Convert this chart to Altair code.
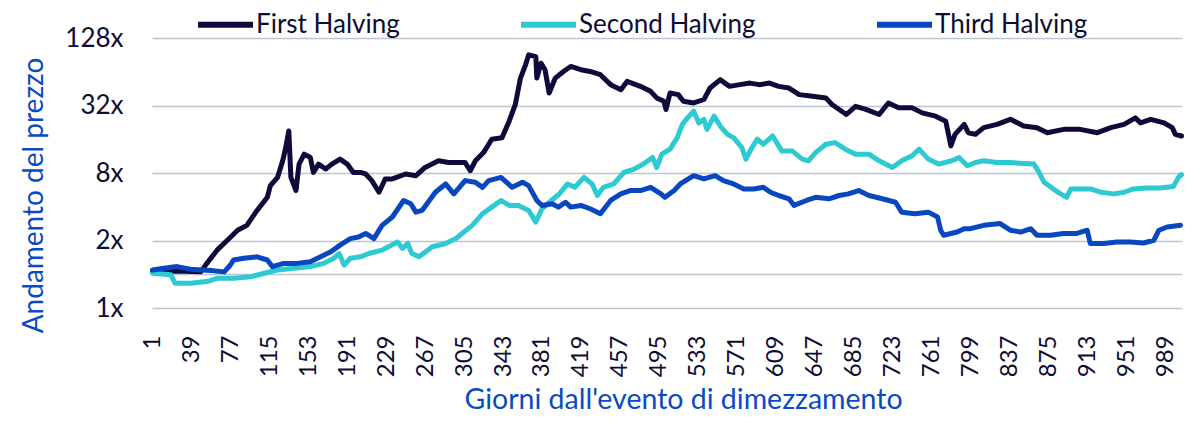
import altair as alt
import pandas as pd

# Price multiple since halving day (day, value)
first_halving = [
    (1, 1.05), (23, 1.07), (48, 1.05), (54, 1.25), (64, 1.64), (74, 2.01), (84, 2.47), (93, 2.73),
    (103, 3.71), (113, 4.86), (116, 6.17), (123, 7.31), (128, 10.28), (131, 13.48), (134, 18.95),
    (136, 7.31), (141, 5.58), (144, 9.61), (149, 11.78), (155, 11.0), (158, 8.10), (163, 9.61),
    (170, 8.68), (176, 9.61), (184, 10.64), (191, 9.61), (197, 8.10), (204, 8.10), (209, 7.84),
    (215, 6.84), (222, 5.39), (228, 7.08), (235, 7.08), (248, 7.84), (258, 7.57), (267, 8.97),
    (280, 10.28), (290, 9.93), (306, 9.93), (311, 8.38), (316, 10.28), (324, 12.17), (332, 16.0),
    (342, 16.53), (349, 23.2), (355, 32.7), (360, 56.2), (365, 73.8), (368, 90.5), (375, 87.4),
    (376, 56.2), (380, 76.3), (384, 66.7), (388, 41.4), (394, 56.2), (402, 64.4), (409, 71.3),
    (419, 66.7), (428, 64.4), (438, 60.2), (448, 49.1), (458, 44.3), (464, 52.5), (477, 47.4),
    (487, 42.8), (493, 37.4), (500, 34.9), (502, 29.5), (506, 41.4), (514, 40.0), (519, 34.9),
    (529, 33.7), (539, 36.2), (545, 45.8), (555, 54.4), (564, 47.4), (574, 49.1), (584, 50.7),
    (593, 49.1), (603, 50.7), (612, 47.4), (622, 45.8), (632, 40.0), (645, 38.7), (658, 37.4),
    (664, 32.7), (678, 26.6), (687, 31.5), (697, 29.5), (710, 26.6), (719, 33.7), (729, 30.5),
    (742, 30.5), (752, 27.5), (765, 25.7), (775, 23.2), (780, 13.96), (784, 17.7), (793, 21.7),
    (797, 18.3), (804, 17.7), (812, 20.3), (825, 21.7), (838, 24.1), (851, 21.0), (864, 20.3),
    (874, 18.3), (890, 19.6), (906, 19.6), (923, 18.3), (936, 20.3), (949, 21.7), (960, 24.8),
    (965, 22.4), (975, 24.1), (988, 22.4), (996, 20.3), (999, 17.7), (1005, 17.1),
]

second_halving = [
    (1, 1.02), (19, 0.99), (23, 0.83), (38, 0.83), (54, 0.86), (64, 0.92), (80, 0.92), (97, 0.95),
    (110, 1.02), (123, 1.09), (139, 1.13), (155, 1.17), (168, 1.25), (178, 1.39), (183, 1.53),
    (188, 1.21), (194, 1.39), (204, 1.43), (212, 1.53), (225, 1.64), (240, 1.94), (245, 1.70),
    (250, 1.88), (254, 1.53), (261, 1.43), (274, 1.76), (287, 1.88), (297, 2.08), (303, 2.31),
    (313, 2.73), (323, 3.47), (332, 3.97), (341, 4.55), (349, 4.11), (358, 4.11), (368, 3.71),
    (375, 2.92), (381, 3.84), (394, 4.86), (398, 5.21), (406, 6.39), (413, 5.96), (422, 7.31),
    (430, 6.39), (435, 5.04), (441, 5.96), (451, 6.39), (461, 8.10), (471, 8.68), (480, 9.61),
    (489, 11.0), (493, 8.97), (498, 11.78), (506, 13.05), (513, 16.53), (518, 21.7), (523, 24.8),
    (529, 28.5), (534, 22.4), (539, 24.1), (542, 19.6), (549, 25.7), (555, 21.0), (562, 17.7),
    (568, 16.53), (576, 13.48), (580, 10.64), (585, 13.05), (591, 16.0), (597, 14.45), (606, 17.1),
    (615, 12.6), (625, 12.6), (635, 10.64), (641, 10.28), (648, 12.17), (658, 14.45), (667, 14.93),
    (677, 13.05), (687, 11.78), (700, 11.78), (710, 10.28), (723, 8.97), (732, 10.28), (742, 11.38),
    (749, 13.05), (758, 10.64), (768, 9.61), (781, 10.28), (788, 11.0), (796, 9.28), (804, 9.93),
    (812, 10.28), (825, 9.93), (838, 9.93), (851, 9.73), (861, 9.61), (866, 8.10), (871, 6.61),
    (880, 5.77), (887, 5.21), (893, 4.86), (897, 5.77), (906, 5.77), (916, 5.77), (926, 5.39),
    (939, 5.21), (949, 5.39), (958, 5.77), (971, 5.89), (984, 5.89), (997, 6.05), (1002, 7.31),
    (1005, 7.73),
]

third_halving = [
    (1, 1.09), (12, 1.13), (25, 1.17), (38, 1.11), (58, 1.08), (71, 1.05), (77, 1.21), (80, 1.34),
    (90, 1.39), (103, 1.43), (113, 1.34), (118, 1.17), (129, 1.25), (142, 1.25), (155, 1.29),
    (165, 1.43), (175, 1.59), (184, 1.82), (194, 2.08), (202, 2.15), (209, 2.31), (217, 2.08),
    (225, 2.73), (235, 3.24), (246, 4.55), (253, 4.25), (258, 3.58), (264, 3.71), (277, 5.39),
    (287, 6.39), (295, 5.21), (306, 6.84), (316, 6.61), (323, 5.96), (329, 6.84), (341, 7.31),
    (352, 5.96), (362, 6.61), (368, 6.17), (376, 4.55), (381, 4.11), (391, 4.25), (397, 3.97),
    (404, 4.39), (409, 3.97), (419, 4.11), (428, 3.84), (438, 3.47), (448, 4.55), (458, 5.21),
    (467, 5.58), (477, 5.58), (487, 5.96), (497, 5.21), (501, 4.86), (510, 5.58), (516, 6.39),
    (529, 7.57), (539, 7.08), (550, 7.57), (558, 6.84), (568, 6.39), (578, 5.77), (588, 5.77),
    (597, 5.96), (604, 5.39), (612, 5.04), (622, 4.71), (627, 4.11), (639, 4.55), (648, 4.86),
    (661, 4.71), (671, 5.04), (680, 5.21), (690, 5.58), (700, 5.04), (713, 4.71), (726, 4.39),
    (732, 3.58), (745, 3.47), (758, 3.58), (767, 3.24), (770, 2.47), (773, 2.23), (786, 2.38),
    (793, 2.55), (799, 2.55), (812, 2.73), (828, 2.83), (838, 2.47), (848, 2.38), (858, 2.55),
    (864, 2.23), (877, 2.23), (890, 2.31), (903, 2.31), (913, 2.47), (916, 1.88), (929, 1.88),
    (942, 1.94), (955, 1.94), (968, 1.90), (978, 2.01), (983, 2.47), (991, 2.64), (1004, 2.73),
]

series_names = ["First Halving", "Second Halving", "Third Halving"]
series_colors = ["#0c0b3c", "#2ecad2", "#0847c0"]

x_tick_values = [1, 39, 77, 115, 153, 191, 229, 267, 305, 343, 381, 419, 457, 495,
                 533, 571, 609, 647, 685, 723, 761, 799, 837, 875, 913, 951, 989]
y_tick_values = [0.5, 1, 2, 8, 32, 128]

rows = []
for name, series in zip(series_names, [first_halving, second_halving, third_halving]):
    for day, val in series:
        rows.append({"day": day, "value": val, "series": name})
df = pd.DataFrame(rows)

FONT = "Lato"
LABEL_COLOR = "#0d0d33"
TITLE_COLOR = "#0a4ac4"

chart = alt.Chart(df).mark_line(
    strokeWidth=5, strokeJoin="round", strokeCap="round"
).encode(
    x=alt.X(
        "day:Q",
        scale=alt.Scale(domain=[0.5, 1005.5], nice=False, zero=False),
        axis=alt.Axis(
            values=x_tick_values, title="Giorni dall'evento di dimezzamento",
            labelAngle=270, grid=False, ticks=False, tickSize=0, domain=False,
            labelPadding=27, titlePadding=9, labelFontSize=24, titleFontSize=28.5,
            labelFont=FONT, titleFont=FONT, labelColor=LABEL_COLOR, titleColor=TITLE_COLOR,
            titleFontWeight="normal", labelOverlap=False, labelFlush=False, titleX=531,
        ),
    ),
    y=alt.Y(
        "value:Q",
        scale=alt.Scale(type="log", base=2, domain=[0.5, 128], nice=False),
        axis=alt.Axis(
            values=y_tick_values,
            labelExpr="datum.value == 0.5 ? '1x' : (datum.value == 1 ? '' : datum.value + 'x')",
            title="Andamento del prezzo", grid=True, gridColor="#bcc6d2", gridWidth=1.5,
            ticks=False, tickSize=0, domain=False, labelPadding=29, titlePadding=16,
            labelFontSize=26, titleFontSize=28, labelFont=FONT, titleFont=FONT,
            labelColor=LABEL_COLOR, titleColor=TITLE_COLOR, titleFontWeight="normal",
            labelOverlap=False, labelFlush=False, titleY=157,
        ),
    ),
    color=alt.Color(
        "series:N",
        scale=alt.Scale(domain=series_names, range=series_colors),
        legend=alt.Legend(
            title=None, orient="none", legendX=43, legendY=-44, direction="horizontal",
            symbolType="stroke", symbolSize=3025, symbolStrokeWidth=6,
            labelFontSize=26, labelFont=FONT, labelColor=LABEL_COLOR, labelLimit=400,
            columnPadding=109, labelOffset=0,
        ),
    ),
).properties(
    width=1030, height=270,
    autosize=alt.AutoSizeParams(type="none"),
    padding={"left": 144, "top": 30, "right": 8, "bottom": 112},
).configure_view(stroke=None)

chart.save("out.html", embed_options={"renderer": "svg", "actions": False})
